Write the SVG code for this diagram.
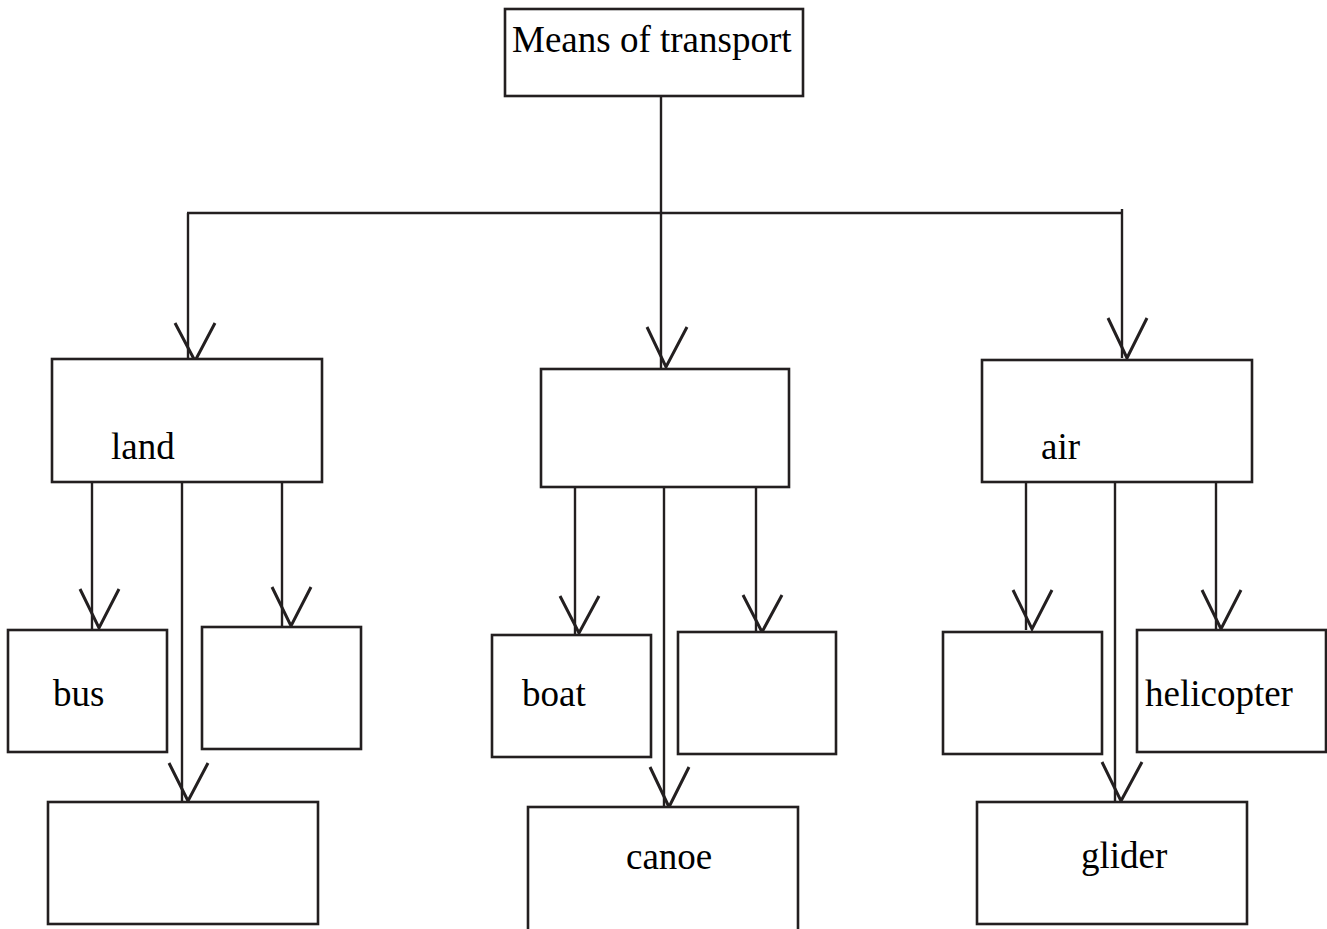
<svg xmlns="http://www.w3.org/2000/svg" width="1327" height="929" viewBox="0 0 1327 929">
<style>
.box{fill:#fff;stroke:#231f20;stroke-width:2.6}
.ln{fill:none;stroke:#231f20;stroke-width:2.4}
.hd{fill:none;stroke:#231f20;stroke-width:3}
.t{font-family:"Liberation Serif","Times New Roman",serif;font-size:37px;fill:#000}
</style>
<rect width="1327" height="929" fill="#fff"/>
<g id="connectors">
<polyline class="ln" points="661,96 661,369"/>
<polyline class="ln" points="187,213 1122,213"/>
<polyline class="ln" points="188,213 188,361"/>
<polyline class="ln" points="1122,209 1122,358"/>
<polyline class="ln" points="92,482 92,629"/>
<polyline class="ln" points="182,482 182,801"/>
<polyline class="ln" points="282,482 282,627"/>
<polyline class="ln" points="575,487 575,634"/>
<polyline class="ln" points="664,487 664,807"/>
<polyline class="ln" points="756,487 756,632"/>
<polyline class="ln" points="1026,482 1026,630"/>
<polyline class="ln" points="1115,482 1115,801"/>
<polyline class="ln" points="1216,482 1216,630"/>
<polyline class="hd" points="175,323 195,361 215,323"/>
<polyline class="hd" points="647,327 666,367 687,327"/>
<polyline class="hd" points="1108,318 1127,358 1147,318"/>
<polyline class="hd" points="80,589 99,628 119,589"/>
<polyline class="hd" points="272,587 291,626 311,587"/>
<polyline class="hd" points="169,763 188,801 208,763"/>
<polyline class="hd" points="560,596 579,633 599,596"/>
<polyline class="hd" points="743,595 762,632 782,595"/>
<polyline class="hd" points="650,767 669,807 689,767"/>
<polyline class="hd" points="1013,590 1032,629 1052,590"/>
<polyline class="hd" points="1202,590 1221,629 1241,590"/>
<polyline class="hd" points="1102,762 1121,801 1142,762"/>
</g>
<g id="n-top"><rect class="box" x="505" y="9" width="298" height="87"/><text class="t" x="512" y="52">Means of transport</text></g>
<g id="n-land"><rect class="box" x="52" y="359" width="270" height="123"/><text class="t" x="111" y="459">land</text></g>
<g id="n-water"><rect class="box" x="541" y="369" width="248" height="118"/></g>
<g id="n-air"><rect class="box" x="982" y="360" width="270" height="122"/><text class="t" x="1041" y="459">air</text></g>
<g id="n-bus"><rect class="box" x="8" y="630" width="159" height="122"/><text class="t" x="53" y="706">bus</text></g>
<g id="n-land2"><rect class="box" x="202" y="627" width="159" height="122"/></g>
<g id="n-land3"><rect class="box" x="48" y="802" width="270" height="122"/></g>
<g id="n-boat"><rect class="box" x="492" y="635" width="159" height="122"/><text class="t" x="522" y="706">boat</text></g>
<g id="n-water2"><rect class="box" x="678" y="632" width="158" height="122"/></g>
<g id="n-canoe"><rect class="box" x="528" y="807" width="270" height="128"/><text class="t" x="626" y="869">canoe</text></g>
<g id="n-air1"><rect class="box" x="943" y="632" width="159" height="122"/></g>
<g id="n-helicopter"><rect class="box" x="1137" y="630" width="189" height="122"/><text class="t" x="1145" y="706">helicopter</text></g>
<g id="n-glider"><rect class="box" x="977" y="802" width="270" height="122"/><text class="t" x="1081" y="868">glider</text></g>
</svg>
